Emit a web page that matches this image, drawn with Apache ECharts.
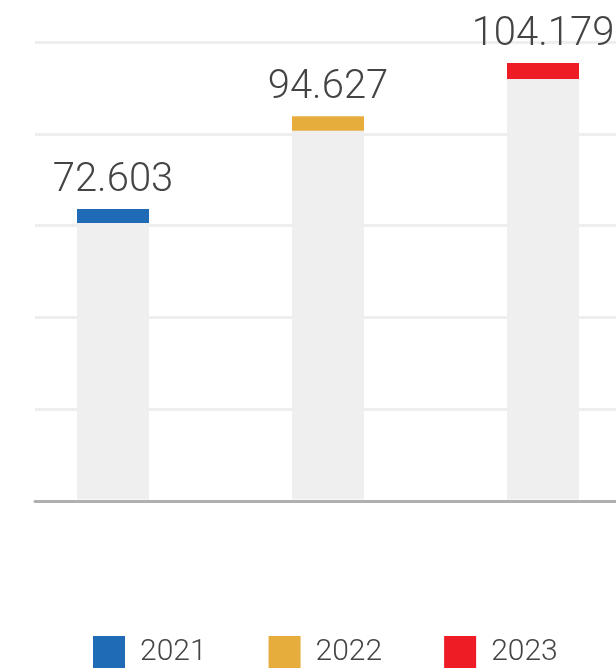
<!DOCTYPE html>
<html><head><meta charset="utf-8">
<script src="https://cdn.jsdelivr.net/npm/echarts@6/dist/echarts.min.js"></script>
<style>html,body{margin:0;padding:0;background:#fff}#c{width:616px;height:669px}</style>
</head><body><div id="c"></div>
<script>
const years = ['2021', '2022', '2023'];
const labelValues = ['72.603', '94.627', '104.179'];
const barValues = [75.3, 100.4, 114.5];
const capValues = [3.8, 4.0, 4.4];
const capColors = ['#1F6BB6', '#E6AC3C', '#EE1C25'];
const yTicks = [0, 25, 50, 75, 100, 125];

const chart = echarts.init(document.getElementById('c'), null, {renderer: 'canvas'});
const font = 'Roboto';
chart.setOption({
  animation: false,
  color: capColors,
  grid: [
    {left: 35, right: -40, top: 42, bottom: 168, outerBoundsMode: 'none', containLabel: false},
    {left: 5.5, width: 645, top: 40.5, bottom: 169.5, outerBoundsMode: 'none', containLabel: false}
  ],
  legend: {
    left: 93, top: 636, padding: 0, itemWidth: 32, itemHeight: 32, itemGap: 62,
    icon: 'rect',
    data: years,
    textStyle: {fontFamily: font, fontWeight: 300, fontSize: 30, color: '#444', padding: [0, 0, 0, 10]}
  },
  xAxis: [
    {gridIndex: 0, type: 'category', data: years, axisLine: {lineStyle: {color: '#b0b0b0', width: 3}}, axisTick: {show: false}, axisLabel: {show: false}},
    {gridIndex: 1, type: 'category', data: years, axisLine: {show: false}, axisTick: {show: false}, axisLabel: {show: false}}
  ],
  yAxis: [
    {gridIndex: 0, type: 'value', min: yTicks[0], max: yTicks[yTicks.length-1], interval: 25, axisLabel: {show: false}, axisLine: {show: false}, axisTick: {show: false}, splitLine: {lineStyle: {color: '#eeeeee', width: 3}}},
    {gridIndex: 1, type: 'value', min: yTicks[0], max: yTicks[yTicks.length-1], interval: 25, axisLabel: {show: false}, axisLine: {show: false}, axisTick: {show: false}, splitLine: {show: false}}
  ],
  series: [
    {type: 'bar', xAxisIndex: 1, yAxisIndex: 1, stack: 's', barWidth: 72, data: barValues, itemStyle: {color: '#efefef'}, silent: true},
    {type: 'bar', xAxisIndex: 1, yAxisIndex: 1, stack: 's', barWidth: 72,
     data: capValues.map((v, i) => ({value: v, itemStyle: {color: capColors[i]}})),
     label: {show: true, position: 'top', distance: 8, fontFamily: font, fontWeight: 300, fontSize: 40, color: '#444',
       formatter: p => labelValues[p.dataIndex]}},
    ...years.map((y, i) => ({type: 'bar', name: y, xAxisIndex: 0, yAxisIndex: 0, data: [], itemStyle: {color: capColors[i]}}))
  ]
});
</script></body></html>
